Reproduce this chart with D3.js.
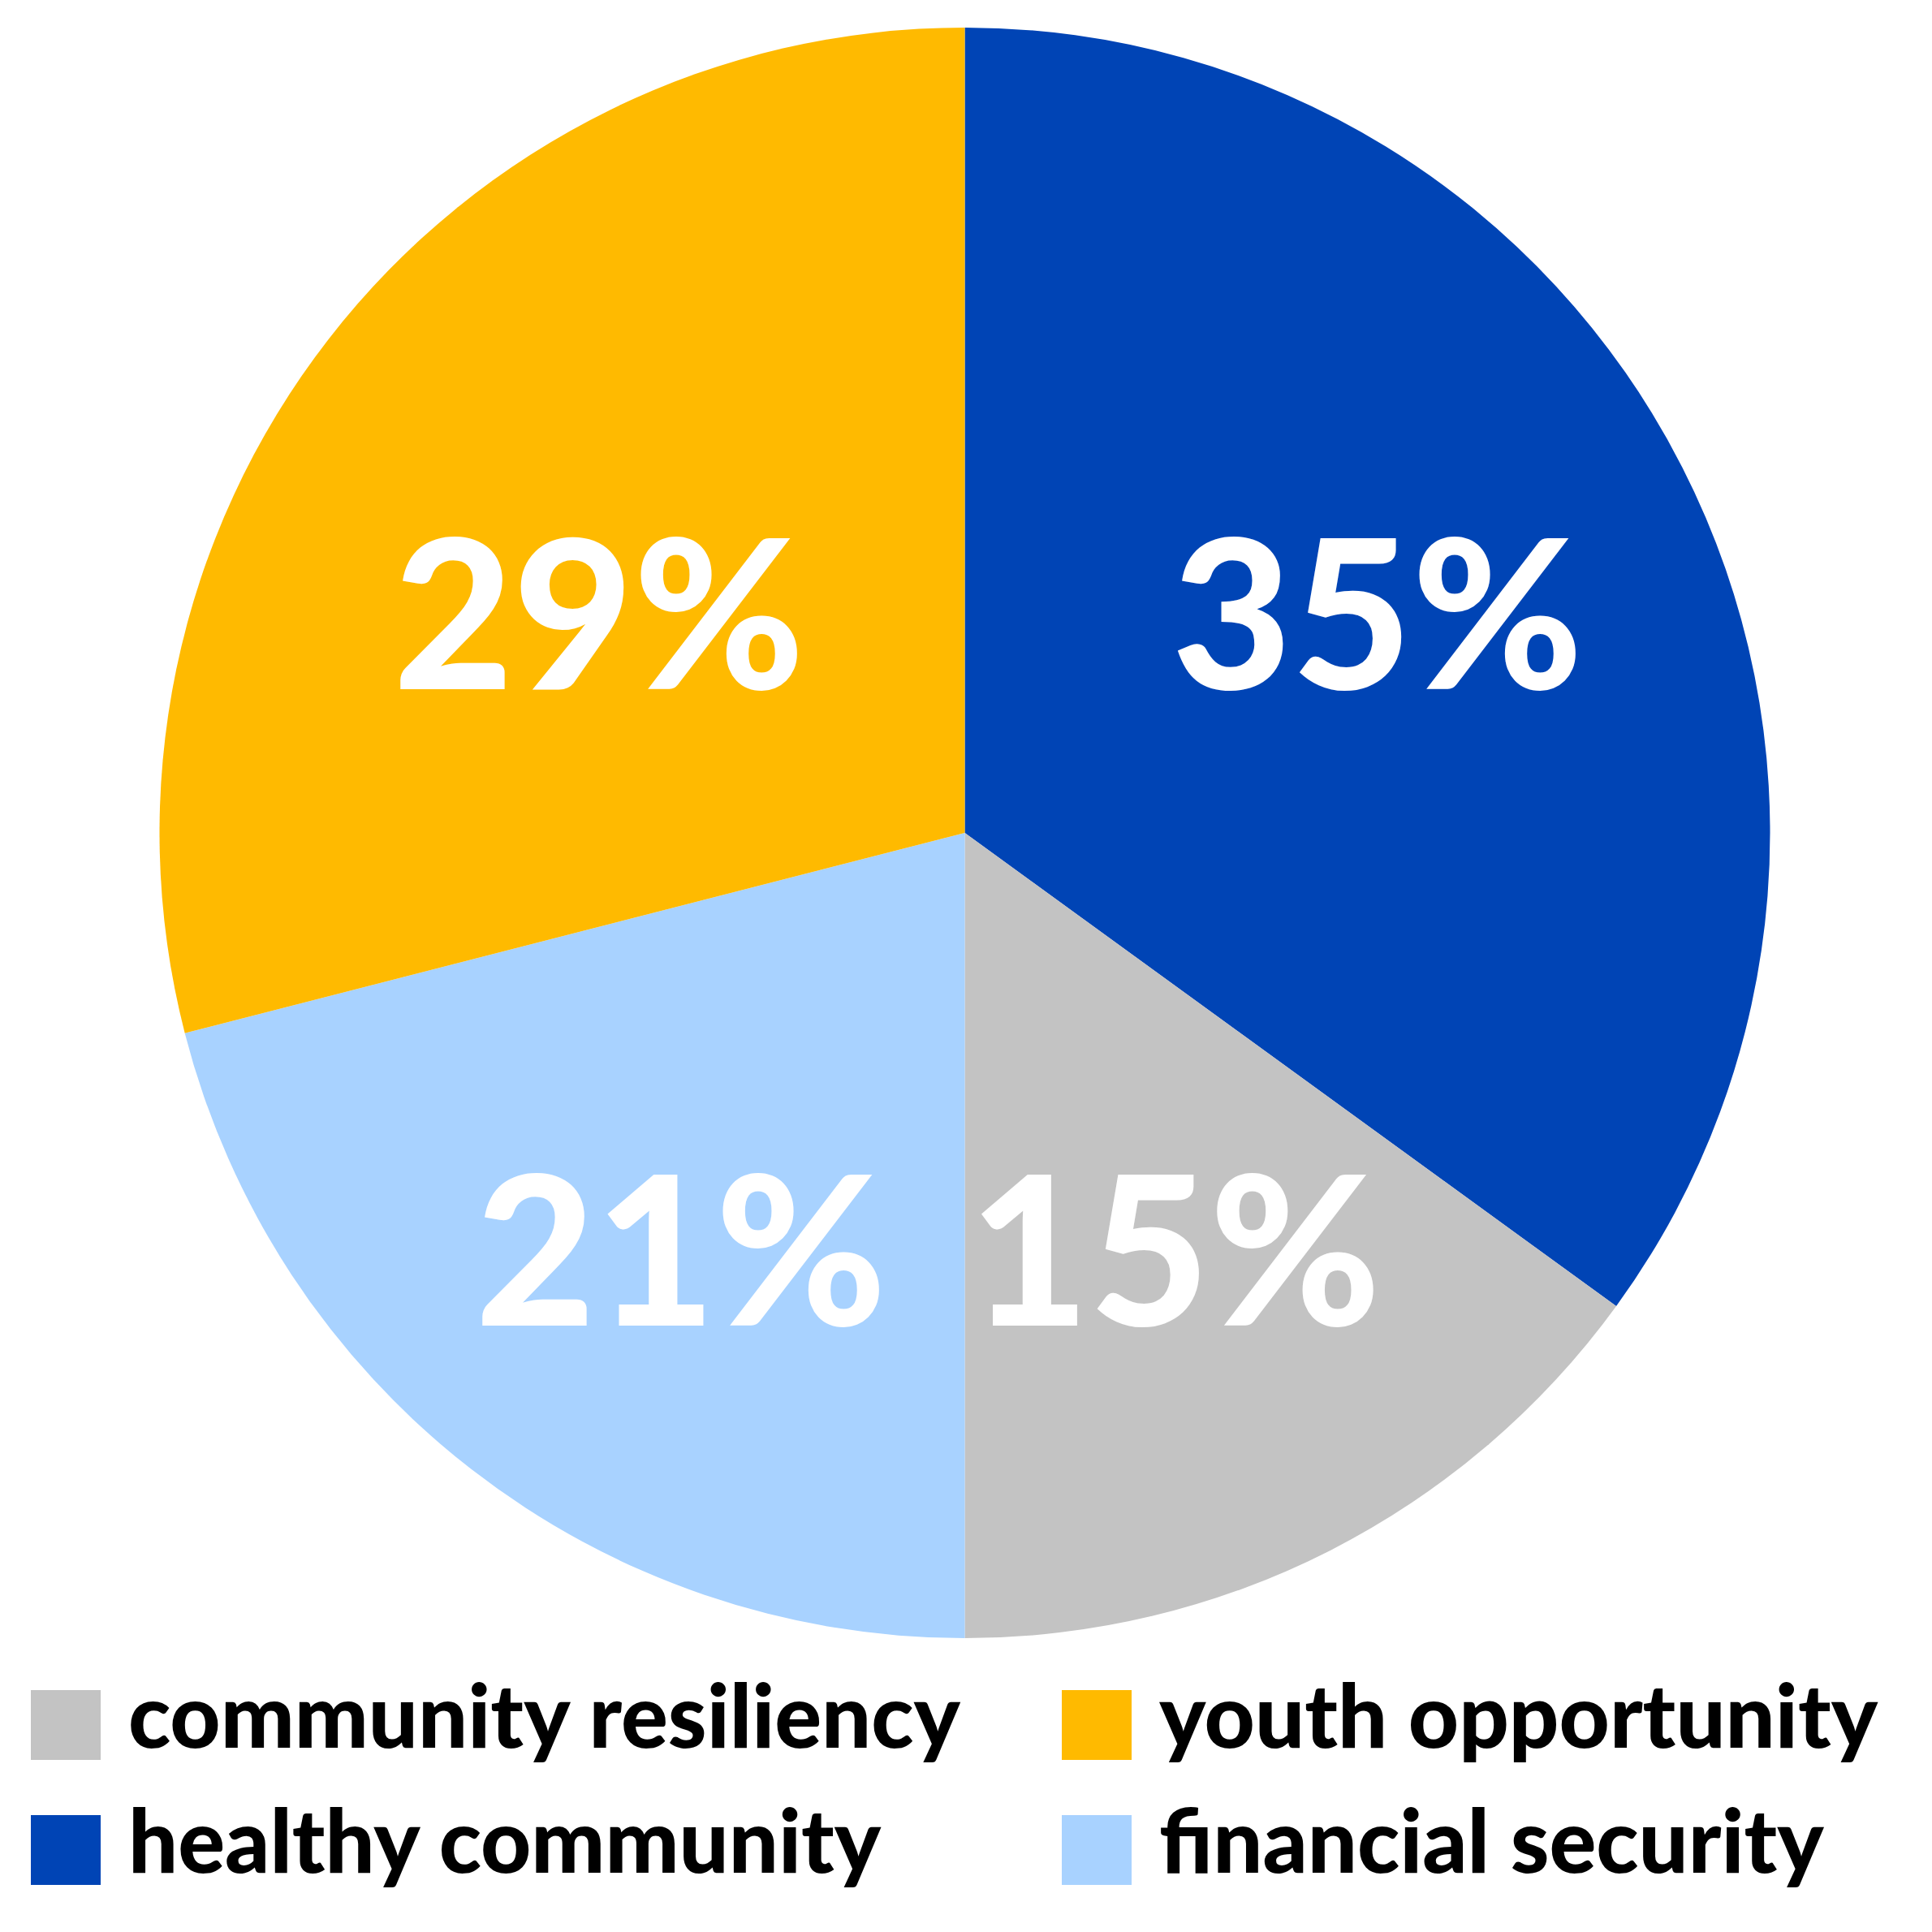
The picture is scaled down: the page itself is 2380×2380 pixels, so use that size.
<!DOCTYPE html>
<html><head><meta charset="utf-8">
<script src="https://cdn.jsdelivr.net/npm/d3@7"></script>
<style>html,body{margin:0;padding:0;background:#fff;}</style>
</head><body>
<script>
const categories = ["healthy community", "community resiliency", "financial security", "youth opportunity"];
const values = [35, 15, 21, 29];
const colors = ["#0044b5", "#c3c3c3", "#a8d2ff", "#ffba00"];
const legendOrder = ["community resiliency", "youth opportunity", "healthy community", "financial security"];

const W = 2380, H = 2380;
const cx = 1188.5, cy = 1026, R = 992;

const svg = d3.select("body").append("svg").attr("width", W).attr("height", H);
const color = d3.scaleOrdinal().domain(categories).range(colors);
const data = categories.map((c, i) => ({cat: c, v: values[i]}));
const pie = d3.pie().value(d => d.v).sort(null);
const arcs = pie(data);
const arc = d3.arc().innerRadius(0).outerRadius(R);
const labelArc = d3.arc().innerRadius(R * 0.575).outerRadius(R * 0.575);

const g = svg.append("g").attr("transform", `translate(${cx},${cy})`);
g.selectAll("path").data(arcs).join("path")
  .attr("d", arc).attr("fill", d => color(d.data.cat));

// label positions: arc centroids, with labels in the same half aligned horizontally
const pos = arcs.map(d => labelArc.centroid(d));
const topY = d3.mean(pos.filter(p => p[1] < 0), p => p[1]);
const botY = d3.mean(pos.filter(p => p[1] >= 0), p => p[1]);

g.selectAll("text").data(arcs).join("text")
  .attr("transform", (d, i) => `translate(${pos[i][0]},${pos[i][1] < 0 ? topY : botY})`)
  .attr("text-anchor", "middle").attr("dy", "0.5em")
  .attr("fill", "#fff").attr("font-family", "Lato, sans-serif").attr("font-weight", 900)
  .attr("font-size", 255)
  .text(d => d.data.v + "%");

const lx = d3.scalePoint().domain([0, 1]).range([38, 1308]);
const ly = d3.scalePoint().domain([0, 1]).range([2082, 2236]);
const lg = svg.append("g");
legendOrder.forEach((c, i) => {
  const col = i % 2, row = Math.floor(i / 2);
  const x = lx(col), y = ly(row);
  lg.append("rect").attr("x", x).attr("y", y).attr("width", 86).attr("height", 86).attr("fill", color(c));
  lg.append("text").attr("x", x + 120).attr("y", y + 71)
    .attr("font-family", "Lato, sans-serif").attr("font-weight", 900).attr("font-size", 108)
    .attr("fill", "#000").text(c);
});
</script>
</body></html>
